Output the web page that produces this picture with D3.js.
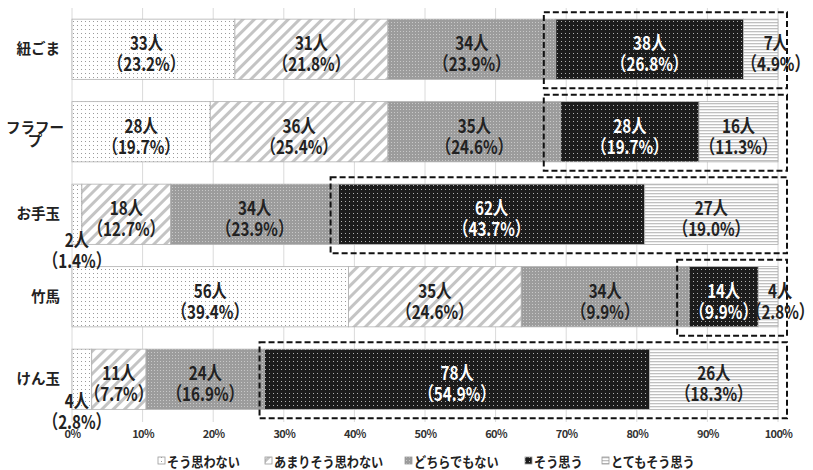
<!DOCTYPE html>
<html><head><meta charset="utf-8">
<script src="https://cdn.jsdelivr.net/npm/d3@7/dist/d3.min.js"></script>
<style>
html,body{margin:0;padding:0;background:#fff;}
svg{display:block;font-family:"Noto Sans CJK JP","Noto Sans",sans-serif;}
</style></head>
<body><svg id="c" width="813" height="470"></svg>
<script>
// ---- data ----
const categories = ["紐ごま","フラフープ","お手玉","竹馬","けん玉"];
const seriesNames = ["そう思わない","あまりそう思わない","どちらでもない","そう思う","とてもそう思う"];
const soOmowanai   = [33,28,2,56,4];
const amariOmowanai= [31,36,18,35,11];
const dochiraDemo  = [34,35,34,34,24];
const soOmou       = [38,28,62,14,78];
const totemoOmou   = [7,16,27,4,26];
const pctSoOmowanai   = ["23.2","19.7","1.4","39.4","2.8"];
const pctAmari        = ["21.8","25.4","12.7","24.6","7.7"];
const pctDochira      = ["23.9","24.6","23.9","9.9","16.9"];
const pctSoOmou       = ["26.8","19.7","43.7","9.9","54.9"];
const pctTotemo       = ["4.9","11.3","19.0","2.8","18.3"];
const tickValues = [0,0.1,0.2,0.3,0.4,0.5,0.6,0.7,0.8,0.9,1.0];

const seriesValues = [soOmowanai, amariOmowanai, dochiraDemo, soOmou, totemoOmou];
const seriesPct = [pctSoOmowanai, pctAmari, pctDochira, pctSoOmou, pctTotemo];

const rows = categories.map((c,i)=>{
  const o = {cat:c};
  seriesNames.forEach((s,j)=>{ o[s] = seriesValues[j][i]; });
  return o;
});

// ---- layout ----
const svg = d3.select("#c");
const x = d3.scaleLinear().domain([0,1]).range([72,778]);
const y = d3.scaleBand().domain(categories).range([8,420.5]).paddingInner(0.27).paddingOuter(0.135);

const stack = d3.stack().keys(seriesNames).offset(d3.stackOffsetExpand);
const stacked = stack(rows);

// patterns
const defs = svg.append("defs");
function pat(id,w,h,bg,draw,transform){
  const p = defs.append("pattern").attr("id",id).attr("patternUnits","userSpaceOnUse")
    .attr("width",w).attr("height",h);
  if(transform) p.attr("patternTransform",transform);
  p.append("rect").attr("width",w).attr("height",h).attr("fill",bg);
  draw(p);
}
pat("p0",4,4,"#ffffff",p=>p.append("rect").attr("x",1).attr("y",1).attr("width",1).attr("height",1).attr("fill","#9a9a9a"));
pat("p1",8,8,"#ffffff",p=>p.append("rect").attr("x",0).attr("y",0).attr("width",3).attr("height",8).attr("fill","#c4c4c4"),"rotate(45)");
pat("p2",3,3,"#9c9c9c",p=>p.append("rect").attr("x",1).attr("y",1).attr("width",1).attr("height",1).attr("fill","#c8c8c8"));
pat("p3",4,4,"#1c1c1c",p=>p.append("rect").attr("x",1).attr("y",1).attr("width",1).attr("height",1).attr("fill","#b0b0b0"));
pat("p4",4,3,"#ffffff",p=>p.append("rect").attr("x",0).attr("y",1).attr("width",4).attr("height",1.3).attr("fill","#c0c0c0"));
const fills = ["url(#p0)","url(#p1)","url(#p2)","url(#p3)","url(#p4)"];
const textColors = ["#222","#222","#222","#fff","#222"];

// gridlines
svg.append("g").selectAll("line").data(tickValues).join("line")
  .attr("x1",d=>x(d)).attr("x2",d=>x(d)).attr("y1",8).attr("y2",422)
  .attr("stroke","#dadada").attr("stroke-width",1);

// bars
const gs = svg.append("g").selectAll("g").data(stacked).join("g")
  .attr("fill",(d,i)=>fills[i]);
gs.selectAll("rect").data(d=>d).join("rect")
  .attr("x",d=>x(d[0])).attr("width",d=>x(d[1])-x(d[0]))
  .attr("y",d=>y(d.data.cat)).attr("height",y.bandwidth())
  .attr("stroke","#b0b0b0").attr("stroke-width",0.8);

// dashed boxes around "そう思う"+"とてもそう思う"
const boxLeftPad = [12,17,8,12,5];
const iSo = seriesNames.indexOf("そう思う");
svg.append("g").selectAll("rect").data(categories).join("rect")
  .attr("x",(c,i)=>x(stacked[iSo][i][0]) - boxLeftPad[i])
  .attr("y",c=>y(c)-7)
  .attr("width",(c,i)=>(x(1)+9) - (x(stacked[iSo][i][0]) - boxLeftPad[i]))
  .attr("height",y.bandwidth()+16)
  .attr("fill","none").attr("stroke","#111").attr("stroke-width",2)
  .attr("stroke-dasharray","6,3");

// data labels
const labelAdj = {"0-4":{dx:15,dy:0},"3-4":{dx:12,dy:0},"2-0":{dx:0,dy:32},"4-0":{dx:-5,dy:28},"0-0":{dx:-7,dy:0}};
const lg = svg.append("g").attr("font-weight","bold").attr("text-anchor","middle");
stacked.forEach((ser,j)=>{
  ser.forEach((d,i)=>{
    const adj = labelAdj[i+"-"+j] || {dx:0,dy:0};
    const cx = (x(d[0])+x(d[1]))/2 + adj.dx;
    const cy = y(d.data.cat) + y.bandwidth()/2 + adj.dy;
    const t = lg.append("text").attr("transform",`translate(${cx},${cy}) scale(0.8,1)`)
      .attr("fill",textColors[j]).attr("font-size",19);
    t.append("tspan").attr("x",0).attr("y",1).text(seriesValues[j][i]+"人");
    t.append("tspan").attr("x",0).attr("y",22).text("（"+seriesPct[j][i]+"%）");
  });
});

// category labels
const cg = svg.append("g").attr("font-weight","bold").attr("font-size",14.5).attr("fill","#222");
categories.forEach(c=>{
  const cy = y(c)+y.bandwidth()/2;
  if(c==="フラフープ"){
    const t = cg.append("text").attr("text-anchor","middle");
    t.append("tspan").attr("x",35).attr("y",cy+1).text("フラフー");
    t.append("tspan").attr("x",35).attr("y",cy+14).text("プ");
  } else {
    cg.append("text").attr("text-anchor","end").attr("x",60).attr("y",cy+5).text(c);
  }
});

// x axis
const ax = svg.append("g").attr("transform","translate(0,438)")
  .call(d3.axisBottom(x).tickValues(tickValues).tickFormat(d3.format(".0%")).tickSize(0).tickPadding(0));
ax.select(".domain").remove();
ax.selectAll("text").attr("font-size",11).attr("font-weight","bold").attr("fill","#333")
  .attr("dy",0).attr("font-family","'Noto Sans CJK JP',sans-serif").attr("letter-spacing","-0.6");

// legend
const legX = [158,265,405,525,602];
const leg = svg.append("g");
seriesNames.forEach((s,j)=>{
  leg.append("rect").attr("x",legX[j]).attr("y",457).attr("width",7).attr("height",7)
    .attr("fill",fills[j]).attr("stroke","#999").attr("stroke-width",0.8);
  leg.append("text").attr("transform",`translate(${legX[j]+9},467) scale(0.9,1)`).attr("font-size",13.5)
    .attr("font-weight","bold").attr("fill","#222").text(s);
});
</script></body></html>
